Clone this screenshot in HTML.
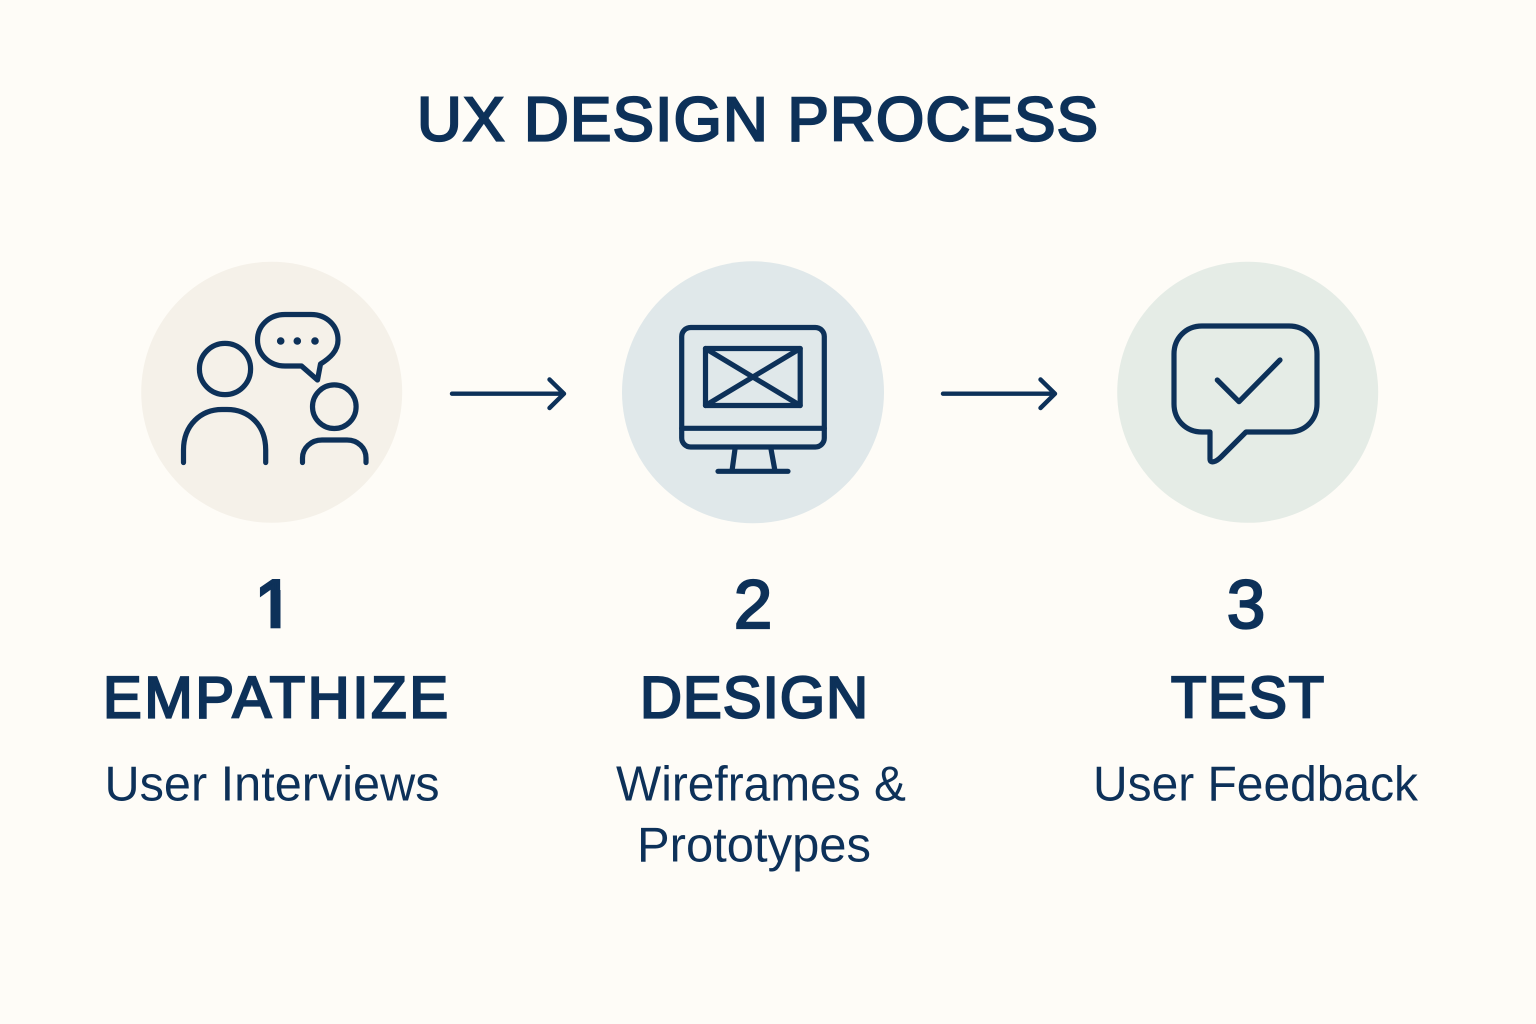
<!DOCTYPE html>
<html lang="en">
<head>
<meta charset="utf-8">
<title>UX Design Process</title>
<style>
html,body{margin:0;padding:0;background:#fefcf7;width:1536px;height:1024px;overflow:hidden}
svg{display:block}
text{font-family:"Liberation Sans",Arial,sans-serif;fill:#0d3159}
.b{stroke:#0d3159;stroke-width:2.3;stroke-linejoin:miter}
.t{font-size:49px}
.s{fill:none;stroke:#0d3159;stroke-width:5.2;stroke-linecap:round;stroke-linejoin:round}
</style>
</head>
<body>
<svg width="1536" height="1024" viewBox="0 0 1536 1024" xmlns="http://www.w3.org/2000/svg">
<defs>
<clipPath id="one"><rect x="240" y="560" width="60" height="60"/></clipPath>
</defs>
<rect width="1536" height="1024" fill="#fefcf7"/>

<text class="b" x="417" y="140.5" font-size="62" textLength="681" lengthAdjust="spacing">UX DESIGN PROCESS</text>

<circle cx="271.7" cy="392.3" r="130.5" fill="#f5f1e9"/>
<circle cx="753" cy="392.3" r="131" fill="#e0e8ea"/>
<circle cx="1247.7" cy="392.3" r="130.5" fill="#e5ece6"/>

<!-- people -->
<g class="s">
<circle cx="225" cy="369" r="25.6"/>
<path d="M183.5 462.5V450C183.5 425 201 409.5 222 409.5H227C249 409.5 265.7 425 265.7 450V462.5"/>
<circle cx="334.3" cy="406.7" r="21.8"/>
<path d="M302.5 462.5V458C302.5 448 311 440 322 440H347C358 440 366 448 366 458V462.5"/>
<path d="M285 314.5H311C327 314.5 338 326 338 340C338 351 330 358 320.5 364L317.5 380L301.5 366H285C269 366 257.5 354 257.5 340C257.5 326 269 314.5 285 314.5Z"/>
</g>
<g fill="#0d3159">
<circle cx="280.7" cy="341" r="3.8"/>
<circle cx="297.3" cy="341" r="3.8"/>
<circle cx="315" cy="341" r="3.8"/>
</g>

<!-- monitor -->
<g class="s">
<rect x="681.7" y="327.5" width="142.6" height="119.5" rx="9"/>
<path d="M681.7 428.3H824.3"/>
<rect x="705.5" y="348.5" width="94.7" height="57"/>
<path d="M705.5 348.5L800.2 405.5M800.2 348.5L705.5 405.5"/>
<path d="M735 449L732 471M771 449L775 471M718 471.3H788"/>
</g>

<!-- chat check -->
<g class="s">
<path d="M1202 326H1289C1305 326 1317 338 1317 354V404C1317 420 1305 432 1289 432H1246L1221 457C1216 462 1210 464 1210 459V432H1202C1186 432 1174 420 1174 404V354C1174 338 1186 326 1202 326Z"/>
<path d="M1217.3 380L1239 401.7L1280 360"/>
</g>

<!-- arrows -->
<g class="s" style="stroke-width:4.4">
<path d="M452 393.7H564M549.5 379.5L564 393.7L549.5 408"/>
<path d="M943 393.7H1055M1040.5 379.5L1055 393.7L1040.5 408"/>
</g>

<!-- step numbers -->
<text class="b" x="255" y="628" font-size="69" style="stroke-width:3.4" clip-path="url(#one)">1</text>
<rect x="270.5" y="590" width="10" height="38.3" fill="#0d3159"/>
<text class="b" x="753" y="628" font-size="69" text-anchor="middle">2</text>
<text class="b" x="1246" y="628" font-size="69" text-anchor="middle">3</text>

<!-- headings -->
<text class="b" x="103" y="717.5" font-size="58" textLength="345" lengthAdjust="spacing">EMPATHIZE</text>
<text class="b" x="640" y="717.5" font-size="58" textLength="228" lengthAdjust="spacing">DESIGN</text>
<text class="b" x="1171" y="717.5" font-size="58" textLength="153" lengthAdjust="spacing">TEST</text>

<!-- subtext -->
<text class="t" x="104.5" y="800.7" textLength="335" lengthAdjust="spacingAndGlyphs">User Interviews</text>
<text class="t" x="616" y="800.7" textLength="290" lengthAdjust="spacingAndGlyphs">Wireframes &amp;</text>
<text class="t" x="637" y="861.7" textLength="234" lengthAdjust="spacingAndGlyphs">Prototypes</text>
<text class="t" x="1093" y="800.7" textLength="325" lengthAdjust="spacingAndGlyphs">User Feedback</text>
</svg>
</body>
</html>
